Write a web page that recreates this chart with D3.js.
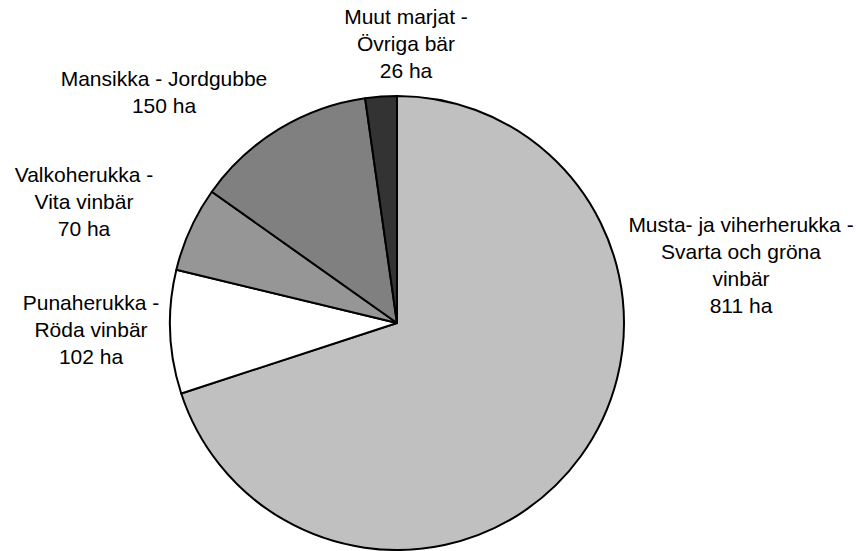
<!DOCTYPE html>
<html><head><meta charset="utf-8">
<script src="https://cdn.jsdelivr.net/npm/d3@7"></script>
<style>body{margin:0;background:#fff}svg{display:block}</style>
</head><body>
<svg id="chart" width="860" height="551"></svg>
<script>
const categories = ["Musta- ja viherherukka - Svarta och gröna vinbär","Punaherukka - Röda vinbär","Valkoherukka - Vita vinbär","Mansikka - Jordgubbe","Muut marjat - Övriga bär"];
const values = [811, 102, 70, 150, 26];
const labelLines = [
  ["Musta- ja viherherukka -","Svarta och gröna","vinbär","811 ha"],
  ["Punaherukka -","Röda vinbär","102 ha"],
  ["Valkoherukka -","Vita vinbär","70 ha"],
  ["Mansikka - Jordgubbe","150 ha"],
  ["Muut marjat -","Övriga bär","26 ha"]
];
const colors = ["#c0c0c0","#ffffff","#969696","#808080","#333333"];
const labelPos = [[741,232],[91,310],[84,182],[164,86],[406,24]];

const svg = d3.select("#chart");
const cx = 397, cy = 323, r = 227;
const data = categories.map((c,i)=>({c, v: values[i], i}));
const pie = d3.pie().value(d=>d.v).sort(null);
const arc = d3.arc().innerRadius(0).outerRadius(r);
const g = svg.append("g").attr("transform",`translate(${cx},${cy})`);
g.selectAll("path").data(pie(data)).join("path")
  .attr("d", arc)
  .attr("fill", d=>colors[d.data.i])
  .attr("stroke","#000").attr("stroke-width",2).attr("stroke-linejoin","round");

const lh = 27;
data.forEach((d,i)=>{
  const t = svg.append("text")
    .attr("font-family","Liberation Sans, Arial, sans-serif")
    .attr("font-size",21).attr("fill","#000").attr("text-anchor","middle");
  labelLines[i].forEach((ln,k)=>{
    t.append("tspan").attr("x",labelPos[i][0]).attr("y",labelPos[i][1]+k*lh).text(ln);
  });
});
</script>
</body></html>
